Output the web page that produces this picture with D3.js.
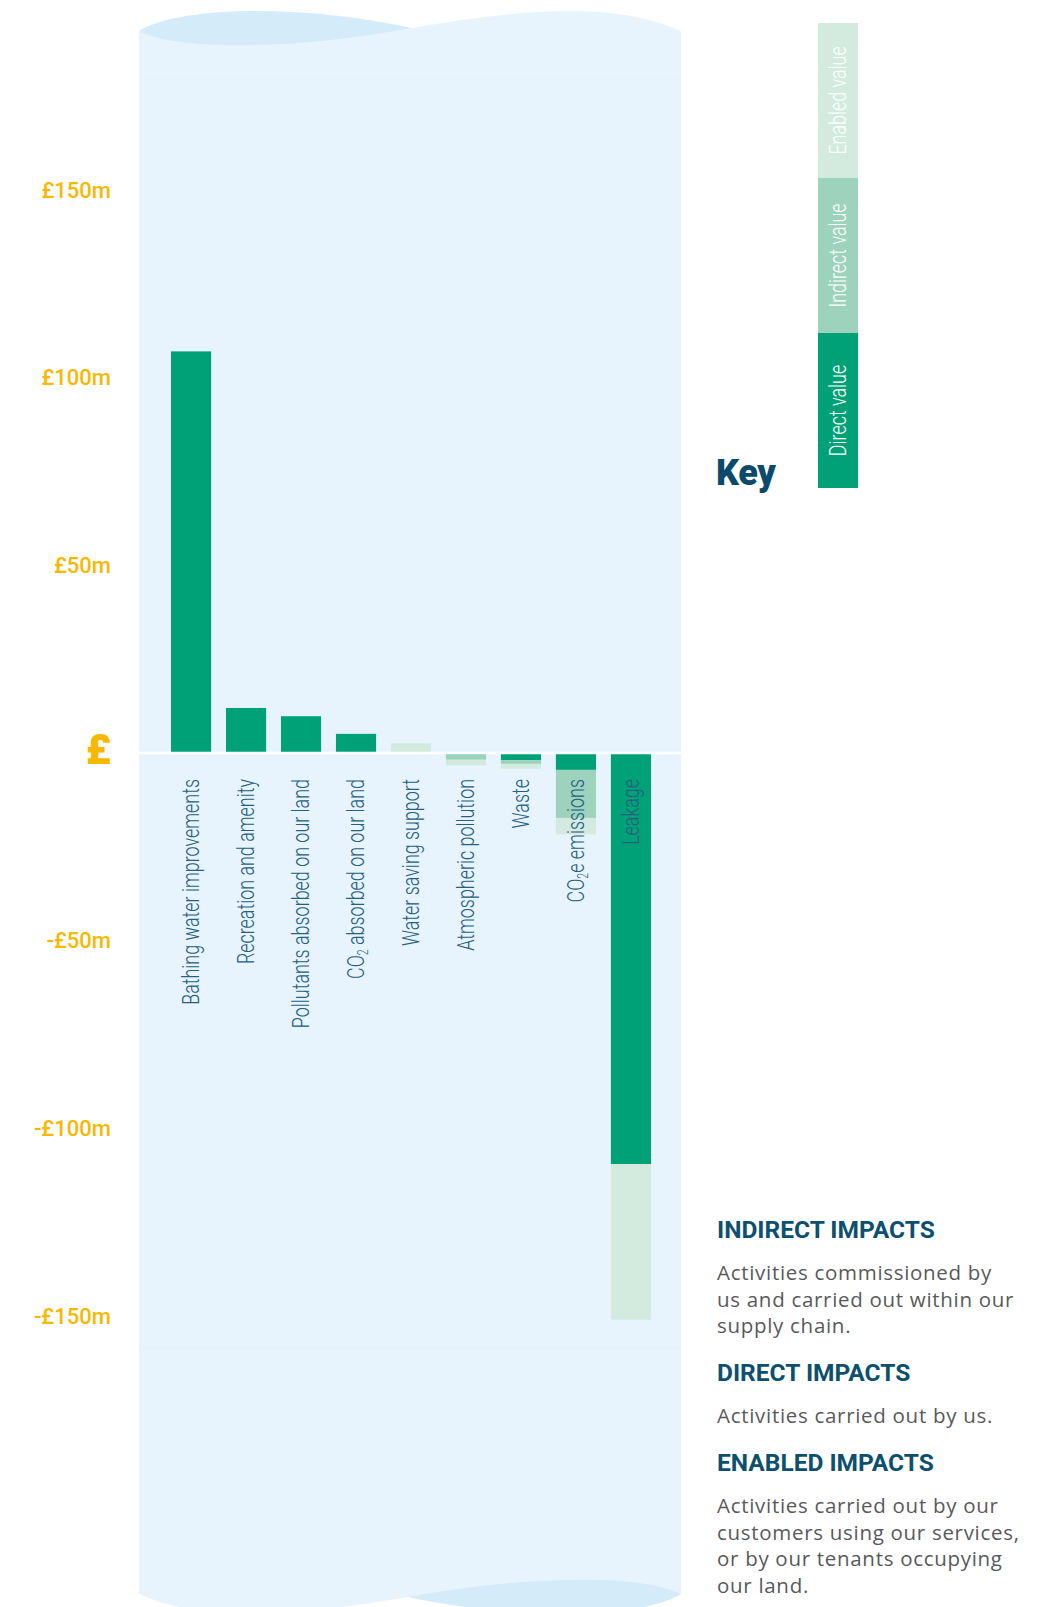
<!DOCTYPE html>
<html>
<head>
<meta charset="utf-8">
<script src="https://cdn.jsdelivr.net/npm/d3@7"></script>
<style>
  body { margin: 0; background: #fff; }
  svg { display: block; }
</style>
</head>
<body>
<svg id="chart" width="1046" height="1607"></svg>
<script>
// values in £m
const categories = [
  'Bathing water improvements',
  'Recreation and amenity',
  'Pollutants absorbed on our land',
  'CO2 absorbed on our land',
  'Water saving support',
  'Atmospheric pollution',
  'Waste',
  'CO2e emissions',
  'Leakage'
]
const directValues = [107, 12, 9.8, 5.1, 0, -0.4, -1.9, -4.5, -109.5]
const indirectValues = [0, 0, 0, 0, 0, -1.4, -1.0, -12.8, 0]
const enabledValues = [0, 0, 0, 0, 2.6, -1.5, -1.3, -4.4, -41.5]

const tickValues = [150, 100, 50, 0, -50, -100, -150]
const tickLabels = ['£150m', '£100m', '£50m', '£', '-£50m', '-£100m', '-£150m']

const keys = ['direct', 'indirect', 'enabled']
const keyLabels = ['Direct value', 'Indirect value', 'Enabled value']
const keyColours = ['#00a176', '#9dd2bd', '#d3eadf']

const noteTitles = ['INDIRECT IMPACTS', 'DIRECT IMPACTS', 'ENABLED IMPACTS']
const noteLines = [
  ['Activities commissioned by', 'us and carried out within our', 'supply chain.'],
  ['Activities carried out by us.'],
  ['Activities carried out by our', 'customers using our services,', 'or by our tenants occupying', 'our land.']
]

const svg = d3.select('#chart')

const x = d3.scaleBand()
  .domain(categories)
  .range([171, 651])
  .paddingInner(0.27)
  .paddingOuter(0)
const y = d3.scaleLinear()
  .domain([-150, 150])
  .range([1316, 190])
const colour = d3.scaleOrdinal().domain(keys).range(keyColours)

// water panel with wavy ends
const panel = svg.append('g')
const topBlob = 'M139,31 C180,6 300,4 412,28 L412,60 L139,60 Z'
panel.append('path').attr('d', topBlob).attr('fill', '#d4ebfa')
panel.append('path').attr('d', topBlob).attr('fill', '#d4ebfa')
  .attr('transform', 'rotate(180,410,812.5)')
panel.append('path')
  .attr('d', 'M139,31 C180,52 300,49 412,28 C520,10 610,0 681,31 L681,1594 C640,1573 520,1576 408,1597 C300,1615 210,1625 139,1594 Z')
  .attr('fill', '#e8f4fd')
panel.append('line').attr('x1', 139).attr('x2', 681).attr('y1', 80).attr('y2', 80)
  .attr('stroke', '#e3f1fb').attr('stroke-width', 1)
panel.append('line').attr('x1', 139).attr('x2', 681).attr('y1', 1348).attr('y2', 1348)
  .attr('stroke', '#e3f1fb').attr('stroke-width', 1)

// stacked bars
const rows = categories.map((c, i) => ({
  category: c,
  direct: directValues[i],
  indirect: indirectValues[i],
  enabled: enabledValues[i]
}))
const series = d3.stack().keys(keys).offset(d3.stackOffsetDiverging)(rows)

svg.append('g')
  .selectAll('g')
  .data(series)
  .join('g')
  .attr('fill', d => colour(d.key))
  .selectAll('rect')
  .data(d => d)
  .join('rect')
  .attr('x', d => x(d.data.category))
  .attr('width', x.bandwidth())
  .attr('y', d => y(d[1]))
  .attr('height', d => y(d[0]) - y(d[1]))

svg.append('line')
  .attr('x1', 139).attr('x2', 681)
  .attr('y1', y(0)).attr('y2', y(0))
  .attr('stroke', '#fff')
  .attr('stroke-width', 2.5)

// y labels
svg.append('g')
  .selectAll('text')
  .data(tickValues)
  .join('text')
  .attr('x', 111)
  .attr('y', d => y(d))
  .attr('dy', d => d === 0 ? '0.26em' : '0.35em')
  .attr('text-anchor', 'end')
  .attr('font-family', 'Roboto, sans-serif')
  .attr('font-weight', d => d === 0 ? 900 : 500)
  .attr('font-size', d => d === 0 ? 42 : 22)
  .attr('fill', '#f9b800')
  .text((d, i) => tickLabels[i])

// category labels, rotated
const labelFont = 'Roboto, sans-serif'
const catLabels = svg.append('g')
  .selectAll('text')
  .data(categories)
  .join('text')
  .attr('text-anchor', 'end')
  .attr('dy', '0.35em')
  .attr('font-family', labelFont)
  .attr('font-weight', 300)
  .attr('font-size', 23.5)
  .attr('fill', '#255f82')

catLabels.each(function (d) {
  const t = d3.select(this)
  if (d.startsWith('CO2')) {
    t.append('tspan').text('CO')
    t.append('tspan').text('2').attr('font-size', 14).attr('baseline-shift', '-25%')
    t.append('tspan').text(d.slice(3))
  } else {
    t.text(d)
  }
})

const squeeze = 226 / catLabels.filter((d, i) => i === 0).node().getComputedTextLength()
catLabels.attr('transform', d =>
  'translate(' + (x(d) + x.bandwidth() / 2) + ',779) rotate(-90) scale(' + squeeze + ',1)')

// key
const keyY = d3.scaleBand()
  .domain(keys.slice().reverse())
  .range([23, 488])

const key = svg.append('g')
key.selectAll('rect')
  .data(keys)
  .join('rect')
  .attr('x', 818)
  .attr('width', 40)
  .attr('y', d => keyY(d))
  .attr('height', keyY.bandwidth())
  .attr('fill', d => colour(d))

key.selectAll('text')
  .data(keys)
  .join('text')
  .attr('text-anchor', 'middle')
  .attr('dy', '0.35em')
  .attr('font-family', labelFont)
  .attr('font-weight', 300)
  .attr('font-size', 23.5)
  .attr('fill', '#fff')
  .attr('transform', d =>
    'translate(838,' + (keyY(d) + keyY.bandwidth() / 2) + ') rotate(-90) scale(' + squeeze + ',1)')
  .text((d, i) => keyLabels[i])

svg.append('text')
  .attr('x', 716)
  .attr('y', 485)
  .attr('font-family', 'Roboto, sans-serif')
  .attr('font-weight', 900)
  .attr('font-size', 36)
  .attr('letter-spacing', -0.3)
  .attr('fill', '#0c4a6b')
  .text('Key')

// notes
const titleBase = [1238, 1381, 1471]
const notes = svg.append('g')
noteTitles.forEach((title, i) => {
  notes.append('text')
    .attr('x', 717)
    .attr('y', titleBase[i])
    .attr('font-family', 'Roboto, sans-serif')
    .attr('font-weight', 700)
    .attr('font-size', 24.5)
    .attr('fill', '#0c4f6f')
    .text(title)
  notes.append('text')
    .attr('font-family', '"Open Sans", sans-serif')
    .attr('font-size', 20.5)
    .attr('letter-spacing', 0.7)
    .attr('fill', '#58595b')
    .selectAll('tspan')
    .data(noteLines[i])
    .join('tspan')
    .attr('x', 717)
    .attr('y', (d, j) => titleBase[i] + 42 + j * 26.7)
    .text(d => d)
})
</script>
</body>
</html>
